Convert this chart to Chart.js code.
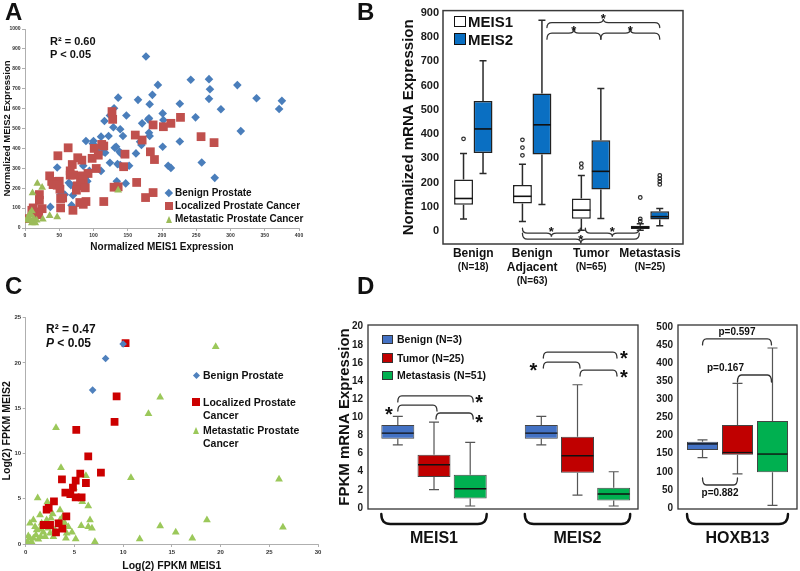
<!DOCTYPE html>
<html><head><meta charset="utf-8">
<script src="https://cdn.jsdelivr.net/npm/chart.js@4/dist/chart.umd.min.js"></script>
<style>
html,body{margin:0;padding:0;background:#fff;}
body{position:relative;width:800px;height:571px;overflow:hidden;font-family:"Liberation Sans",Arial,Helvetica,sans-serif;color:#111;}
canvas{position:absolute;}
.t{position:absolute;font-weight:bold;white-space:nowrap;color:#111;}
.mk{position:absolute;box-sizing:border-box;}
</style></head><body>
<canvas id="cA" width="400" height="290" style="left:0;top:0"></canvas>
<canvas id="cB" width="400" height="290" style="left:400px;top:0"></canvas>
<canvas id="cC" width="400" height="290" style="left:0;top:290px"></canvas>
<canvas id="cD1" width="310" height="290" style="left:330px;top:290px"></canvas>
<canvas id="cD2" width="160" height="290" style="left:640px;top:290px"></canvas>
<script>
// ================= DATA =================
// Panel A: normalized MEIS1 (x) vs MEIS2 (y)
const benignA = [[176.6,862],[242,745],[268.6,748],[270,697],[310,718],[194,719],[165,644],[136,655],[186,669],[268.6,649],[338,652],[375,639],[371,598],[286,597],[226,624],[182,622],[130,602],[124,565],[201,576],[180,546],[181,551],[202,543],[249,556],[148,565],[116,538],[122,462],[111,459],[129,506],[139,496],[143,462],[171,526],[181,479],[182,462],[315,487],[201,408],[226,435],[168,433],[170,417],[162,375],[131,403],[133,408],[100,437],[99,425],[113,417],[89,437],[106,397],[114,383],[117,378],[138,383],[140,375],[124,328],[135,321],[139,316],[152,313],[209,313],[213,302],[258,329],[277,252],[111,287],[85,313],[47,304],[94,287],[88,252],[91,235],[64,227],[67,215],[79,220],[134,235],[147,224],[52,168],[58,168],[70,165],[37,106],[68,114]];
const localizedA = [[127,585],[128,546],[227,556],[213,526],[187,518],[202,509],[161,467],[171,442],[257,459],[276,429],[112,420],[115,412],[63,403],[101,400],[107,366],[183,383],[146,371],[48,363],[77,353],[83,341],[69,319],[98,350],[189,344],[144,308],[36,262],[66,287],[66,266],[71,266],[83,262],[92,274],[104,299],[50,235],[85,240],[39,234],[41,218],[47,215],[76,212],[81,224],[88,202],[51,195],[75,190],[130,205],[136,207],[163,229],[187,178],[176,153],[115,133],[89,133],[80,128],[85,119],[21,168],[21,139],[52,148],[55,151],[52,101],[25,97],[19,81],[20,67],[12,101],[10,89],[70,89],[2,47]];
const metastaticA = [[18,224],[11,176],[25,203],[136,190],[36,61],[47,55],[26,44],[10,86],[7,72],[5,55],[8,39],[12,30],[15,25],[10,25],[6,47],[2,39],[9,64],[13,47],[17,39]];
const seriesA = ['Benign Prostate','Localized Prostate Cancer','Metastatic Prostate Cancer'];
const xTicksA = [0,50,100,150,200,250,300,350,400];
const yTicksA = [0,100,200,300,400,500,600,700,800,900,1000];

// Panel C: log2 FPKM MEIS1 (x) vs MEIS2 (y)
const benignC = [[8.2,20.5],[10.0,22.1],[6.87,17.0]];
const localizedC = [[10.25,22.2],[9.33,16.3],[9.12,13.5],[5.19,12.6],[6.42,9.68],[7.72,7.88],[5.6,7.77],[3.72,7.14],[5.13,7.0],[6.18,6.74],[4.85,6.22],[4.07,5.67],[4.58,5.52],[5.13,5.15],[5.74,5.15],[2.9,4.71],[2.36,3.98],[2.15,3.79],[4.17,3.06],[3.11,1.29],[2.15,2.1],[2.5,2.1],[3.38,2.28],[3.76,1.69],[1.85,2.1]];
const metastaticC = [[19.5,21.8],[13.8,16.2],[12.6,14.4],[3.11,12.85],[3.62,8.43],[10.8,7.33],[6.18,7.55],[26.0,7.14],[4.95,6.19],[5.81,4.68],[6.42,4.2],[1.23,5.08],[2.22,4.64],[3.52,3.76],[18.6,2.65],[13.8,1.99],[15.4,1.29],[17.1,0.63],[11.7,0.55],[26.4,1.84],[7.1,0.26],[5.13,0.55],[6.42,1.91],[6.6,2.65],[6.8,1.73],[5.7,2.02],[4.75,1.29],[4.13,0.63],[4.37,1.91],[3.99,2.36],[2.6,2.84],[2.77,3.31],[1.47,3.2],[0.79,2.65],[0.44,2.28],[0.96,1.91],[1.47,1.62],[1.81,1.29],[1.06,0.99],[0.44,0.63],[0.17,0.26],[0.6,0.26],[1.3,0.52],[2.0,0.81],[2.5,1.18],[3.0,1.55],[3.52,2.65],[3.8,3.02],[0.79,0.63],[1.13,1.55],[1.64,2.28],[2.15,2.65],[2.32,1.73],[2.84,0.81],[0.27,0.88],[1.54,0.81],[4.2,1.18]];
const seriesC = ['Benign Prostate','Localized Prostate|Cancer','Metastatic Prostate|Cancer'];
const xTicksC = [0,5,10,15,20,25,30];
const yTicksC = [0,5,10,15,20,25];

// Panel B: box stats [min, q1, median, q3, max]
const groupsB = [['Benign'],['Benign','Adjacent'],['Tumor'],['Metastasis']];
const countsB = ['(N=18)','(N=63)','(N=65)','(N=25)'];
const seriesB = ['MEIS1','MEIS2'];
const meis1B = [[49,108,134,212,320],[39,113,143,190,275],[3,50,86,134,229],[3,8,15,22,30]];
const meis1OutB = [[380],[312,344,376],[262,278],[40,50,138]];
const meis2B = [[237,322,421,536,702],[109,316,438,567,869],[51,171,246,374,588],[22,47,59,81,93]];
const meis2OutB = [[],[],[],[192,204,216,229]];
const yTicksB = [0,100,200,300,400,500,600,700,800,900];

// Panel D: FPKM box stats [min, q1, median, q3, max]
const groupsD = ['MEIS1','MEIS2'];
const seriesD = ['Benign (N=3)','Tumor (N=25)','Metastasis (N=51)'];
const benignD = [[6.97,7.63,8.26,9.17,10.1],[6.97,7.63,8.26,9.17,10.1]];
const tumorD = [[2.02,3.41,4.77,5.87,9.47],[1.43,3.89,5.76,7.85,13.6]];
const metD = [[0.22,1.06,2.13,3.67,7.23],[0.22,0.84,1.54,2.24,4.0]];
const yTicksD = [0,2,4,6,8,10,12,14,16,18,20];
const groupsH = ['HOXB13'];
const benignH = [[139,160,177,183,188]];
const tumorH = [[94,147,153,229,344]];
const metH = [[7,99,149,240,442]];
const yTicksH = [0,50,100,150,200,250,300,350,400,450,500];
const pValsH = ['p=0.597','p=0.167','p=0.882'];

// ================= HELPERS =================
const FF = '"Liberation Sans", Arial, Helvetica, sans-serif';
Chart.defaults.font.family = FF;
Chart.defaults.color = '#111';

function T(x, y, html, size, opts) {
  opts = opts || {};
  const d = document.createElement('div');
  d.className = 't';
  d.innerHTML = html;
  const lh = opts.lh || size;
  d.style.fontSize = size + 'px';
  d.style.lineHeight = lh + 'px';
  d.style.left = x + 'px';
  d.style.top = (y - ((lh - 1.117 * size) / 2 + 0.547 * size)) + 'px';
  if (opts.style) Object.assign(d.style, opts.style);
  document.body.appendChild(d);
}
function MK(type, cx, cy, s, color, border) {
  const d = document.createElement('div');
  d.className = 'mk';
  if (type === 'diamond') {
    const a = s / Math.SQRT2;
    Object.assign(d.style, {width: a + 'px', height: a + 'px', left: (cx - a / 2) + 'px', top: (cy - a / 2) + 'px', background: color, transform: 'rotate(45deg)'});
  } else if (type === 'square') {
    Object.assign(d.style, {width: s + 'px', height: s + 'px', left: (cx - s / 2) + 'px', top: (cy - s / 2) + 'px', background: color});
  } else if (type === 'box') {
    Object.assign(d.style, {width: s[0] + 'px', height: s[1] + 'px', left: (cx - s[0] / 2) + 'px', top: (cy - s[1] / 2) + 'px', background: color, border: border});
  } else if (type === 'tri') {
    Object.assign(d.style, {width: 0, height: 0, left: (cx - s / 2) + 'px', top: (cy - s / 2) + 'px', borderLeft: (s / 2) + 'px solid transparent', borderRight: (s / 2) + 'px solid transparent', borderBottom: s + 'px solid ' + color});
  }
  document.body.appendChild(d);
}
const pts = arr => arr.map(p => ({x: p[0], y: p[1]}));
const setTicks = vals => s => { s.ticks = vals.map(v => ({value: v})); };

function scatterAxis(min, max, ticks, title, tsize, fit, isX, tickSize, tpad) {
  return {
    type: 'linear', min, max,
    afterBuildTicks: setTicks(ticks),
    ticks: {font: {size: tickSize, weight: 'bold'}, color: '#333', padding: 1.5, autoSkip: false, maxRotation: 0, callback: v => String(v)},
    grid: {display: true, drawOnChartArea: false, drawTicks: true, tickLength: 3, color: '#9a9a9a', lineWidth: 0.8},
    border: {display: true, color: '#9a9a9a', width: 0.8},
    title: {display: true, text: title, font: {size: tsize, weight: 'bold'}, color: '#111', padding: tpad},
    afterFit: s => { if (isX) s.height = fit; else s.width = fit; }
  };
}

// box plot: whiskers, caps, medians, outliers drawn from the bar elements & y-scale
const boxPlugin = {
  id: 'boxExtras',
  afterDatasetsDraw(chart) {
    const ctx = chart.ctx, ys = chart.scales.y;
    chart.data.datasets.forEach((ds, di) => {
      if (!ds.stats) return;
      const st = ds.boxStyle;
      chart.getDatasetMeta(di).data.forEach((bar, i) => {
        const s = ds.stats[i].map(v => ys.getPixelForValue(v));
        const x = bar.x, w = bar.width;
        ctx.save();
        ctx.strokeStyle = st.whisker; ctx.lineWidth = st.lw;
        ctx.beginPath();
        ctx.moveTo(x, s[3]); ctx.lineTo(x, s[4]);
        ctx.moveTo(x, s[1]); ctx.lineTo(x, s[0]);
        ctx.moveTo(x - st.cap, s[4]); ctx.lineTo(x + st.cap, s[4]);
        ctx.moveTo(x - st.cap, s[0]); ctx.lineTo(x + st.cap, s[0]);
        ctx.stroke();
        ctx.strokeStyle = st.median; ctx.lineWidth = st.mlw;
        ctx.beginPath(); ctx.moveTo(x - w / 2 + 0.5, s[2]); ctx.lineTo(x + w / 2 - 0.5, s[2]); ctx.stroke();
        ctx.strokeStyle = st.whisker; ctx.lineWidth = 1.2;
        ((ds.outliers && ds.outliers[i]) || []).forEach(v => {
          ctx.beginPath(); ctx.arc(x, ys.getPixelForValue(v), st.or, 0, Math.PI * 2); ctx.stroke();
        });
        ctx.restore();
      });
    });
  }
};

function brace(ctx, x1, x2, y, h, tip, r) {
  r = Math.min(r, (x2 - x1) / 4);
  const m = (x1 + x2) / 2;
  ctx.beginPath();
  ctx.moveTo(x1, y + h);
  ctx.quadraticCurveTo(x1, y, x1 + r, y);
  if (tip) {
    ctx.lineTo(m - r, y);
    ctx.quadraticCurveTo(m, y, m, y - h * 0.7);
    ctx.quadraticCurveTo(m, y, m + r, y);
  }
  ctx.lineTo(x2 - r, y);
  ctx.quadraticCurveTo(x2, y, x2, y + h);
  ctx.stroke();
}
function star(ctx, x, cy, size) {
  ctx.save();
  ctx.font = 'bold ' + size + 'px ' + FF;
  ctx.fillStyle = '#111'; ctx.textAlign = 'center'; ctx.textBaseline = 'alphabetic';
  ctx.fillText('*', x, cy + 0.575 * size);
  ctx.restore();
}
function drawSig(chart, specs, style) {
  const ctx = chart.ctx, ys = chart.scales.y;
  specs.forEach(sp => {
    const b1 = chart.getDatasetMeta(sp.from[1]).data[sp.from[0]];
    const b2 = chart.getDatasetMeta(sp.to[1]).data[sp.to[0]];
    const x1 = b1.x + (sp.dx1 || 0), x2 = b2.x + (sp.dx2 || 0);
    const yy = ys.getPixelForValue(sp.v);
    ctx.save();
    ctx.strokeStyle = style.color; ctx.lineWidth = style.lw; ctx.lineCap = 'round';
    brace(ctx, x1, x2, yy, sp.h, sp.tip, style.r);
    ctx.restore();
    if (sp.mark) {
      const mk = sp.mark;
      const mx = (mk.at === 'x1' ? x1 : mk.at === 'x2' ? x2 : (x1 + x2) / 2) + (mk.dx || 0);
      const my = yy + (mk.dy || 0);
      if (mk.text) {
        ctx.save();
        ctx.font = 'bold ' + mk.size + 'px ' + FF; ctx.fillStyle = '#111';
        ctx.textAlign = 'center'; ctx.textBaseline = 'middle';
        ctx.fillText(mk.text, mx, my);
        ctx.restore();
      } else star(ctx, mx, my, mk.size);
    }
  });
}
function frame(chart, color, lw) {
  const a = chart.chartArea, ctx = chart.ctx;
  ctx.save(); ctx.strokeStyle = color; ctx.lineWidth = lw;
  ctx.strokeRect(a.left, a.top, a.right - a.left, a.bottom - a.top);
  ctx.restore();
}
function groupBraces(chart, labels, nSeries) {
  const ctx = chart.ctx, a = chart.chartArea;
  labels.forEach((lab, g) => {
    const first = chart.getDatasetMeta(0).data[g], last = chart.getDatasetMeta(nSeries - 1).data[g];
    const x1 = first.x - first.width / 2, x2 = last.x + last.width / 2;
    ctx.save(); ctx.strokeStyle = '#111'; ctx.lineWidth = 2.4; ctx.lineCap = 'round';
    brace(ctx, x1, x2, a.bottom + 15, -10, false, 9);
    ctx.font = 'bold 16px ' + FF; ctx.fillStyle = '#111'; ctx.textAlign = 'center'; ctx.textBaseline = 'middle';
    ctx.fillText(lab, (x1 + x2) / 2, a.bottom + 30);
    ctx.restore();
  });
}
function indexAxis(min, max, ticks, h) {
  return {type: 'linear', min, max, offset: false, afterBuildTicks: setTicks(ticks),
    ticks: {display: false}, grid: {display: false, offset: false}, border: {display: false}, afterFit: s => { s.height = h; }};
}

// ================= PANEL A =================
new Chart(document.getElementById('cA'), {
  type: 'scatter',
  data: {datasets: [
    {label: seriesA[0], data: pts(benignA), pointStyle: 'rectRot', radius: 4.3, backgroundColor: '#4A7EBB', borderWidth: 0, order: 3},
    {label: seriesA[1], data: pts(localizedA), pointStyle: 'rect', radius: 6.2, backgroundColor: '#C0504D', borderWidth: 0, order: 2},
    {label: seriesA[2], data: pts(metastaticA), pointStyle: 'triangle', radius: 4.5, backgroundColor: '#9BBB59', borderWidth: 0, order: 1}
  ]},
  options: {
    responsive: false, animation: false, events: [],
    layout: {padding: {top: 29, right: 101, left: 0, bottom: 37}},
    plugins: {legend: {display: false}, tooltip: {enabled: false}},
    scales: {
      x: scatterAxis(0, 400, xTicksA, 'Normalized MEIS1 Expression', 10, 25, true, 5, 0),
      y: scatterAxis(0, 1000, yTicksA, 'Normalized MEIS2 Expression', 9.5, 25, false, 5, {top: 1.3, bottom: 0})
    }
  }
});

// ================= PANEL C =================
new Chart(document.getElementById('cC'), {
  type: 'scatter',
  data: {datasets: [
    {label: seriesC[0], data: pts(benignC), pointStyle: 'rectRot', radius: 3.8, backgroundColor: '#4F81BD', borderWidth: 0, order: 1},
    {label: seriesC[1], data: pts(localizedC), pointStyle: 'rect', radius: 5.5, backgroundColor: '#CC0000', borderWidth: 0, order: 2},
    {label: seriesC[2], data: pts(metastaticC), pointStyle: 'triangle', radius: 4.5, backgroundColor: '#9BC85A', borderWidth: 0, order: 3}
  ]},
  options: {
    responsive: false, animation: false, events: [],
    layout: {padding: {top: 27.7, right: 82, left: 0, bottom: 7.7}},
    plugins: {legend: {display: false}, tooltip: {enabled: false}},
    scales: {
      x: scatterAxis(0, 30, xTicksC, 'Log(2) FPKM MEIS1', 10.5, 28.3, true, 6, 0),
      y: scatterAxis(0, 25, yTicksC, 'Log(2) FPKM MEIS2', 10.5, 25.7, false, 6, {top: 0.7, bottom: 0})
    }
  }
});

// ================= PANEL B =================
const boxStyleB = {whisker: '#2a2a2a', lw: 1.5, median: '#111', mlw: 1.6, cap: 3.5, or: 1.8};
const sigB = [
  {from: [1, 1], to: [3, 1], dx1: 5, v: 860, h: 5, tip: true, mark: {dy: -7, size: 13}},
  {from: [1, 1], to: [2, 1], dx1: 5, v: 816, h: 6, tip: true, mark: {dy: -6, size: 13}},
  {from: [2, 1], to: [3, 1], v: 816, h: 6, tip: true, mark: {dy: -6, size: 13}},
  {from: [1, 0], to: [2, 0], dx2: -1, v: -9, h: -5, tip: true, mark: {dy: -5, size: 13}},
  {from: [2, 0], to: [3, 0], dx1: 4, dx2: -1, v: -9, h: -5, tip: true, mark: {dy: -5, size: 13}},
  {from: [1, 0], to: [3, 0], dx2: -1, v: -34, h: -6, tip: true, mark: {dy: -3, size: 13}}
];
new Chart(document.getElementById('cB'), {
  type: 'bar',
  data: {datasets: [
    {label: seriesB[0], data: meis1B.map((s, i) => ({x: i, y: [s[1], s[3]]})), stats: meis1B, outliers: meis1OutB, boxStyle: boxStyleB,
     backgroundColor: '#ffffff', borderColor: '#222', borderWidth: 1.5, borderSkipped: false, categoryPercentage: 0.662, barPercentage: 0.97},
    {label: seriesB[1], data: meis2B.map((s, i) => ({x: i, y: [s[1], s[3]]})), stats: meis2B, outliers: meis2OutB, boxStyle: boxStyleB,
     backgroundColor: '#0A6FC2', borderColor: '#222', borderWidth: 1.5, borderSkipped: false, categoryPercentage: 0.662, barPercentage: 0.97}
  ]},
  options: {
    responsive: false, animation: false, events: [],
    layout: {padding: {top: 6, right: 117, left: 0, bottom: 0}},
    plugins: {legend: {display: false}, tooltip: {enabled: false}},
    scales: {
      x: indexAxis(-0.514, 3.56, [0, 1, 2, 3], 46),
      y: {type: 'linear', min: -53.8, max: 909.3, afterBuildTicks: setTicks(yTicksB),
          ticks: {font: {size: 11, weight: 'bold'}, color: '#1a1a1a', padding: 4, callback: v => String(v)},
          grid: {display: false, drawTicks: false}, border: {display: false},
          title: {display: true, text: 'Normalized mRNA Expression', font: {size: 15, weight: 'bold'}, color: '#111', padding: {top: 0, bottom: 0}},
          afterFit: s => { s.width = 43; }}
    }
  },
  plugins: [boxPlugin, {
    id: 'decoB',
    afterDraw(chart) {
      frame(chart, '#3a3a3a', 1.5);
      drawSig(chart, sigB, {color: '#333', lw: 1.3, r: 5});
      const ctx = chart.ctx, xs = chart.scales.x, a = chart.chartArea;
      ctx.save(); ctx.fillStyle = '#111'; ctx.textAlign = 'center'; ctx.textBaseline = 'middle';
      groupsB.forEach((lines, i) => {
        const x = xs.getPixelForValue(i);
        ctx.font = 'bold 12px ' + FF;
        lines.forEach((ln, k) => ctx.fillText(ln, x, a.bottom + 10 + k * 14));
        ctx.font = 'bold 10px ' + FF;
        ctx.fillText(countsB[i], x, a.bottom + 10 + (lines.length - 1) * 14 + 13);
      });
      ctx.restore();
    }
  }]
});

// ================= PANEL D (MEIS1 / MEIS2) =================
const colorsD = ['#4472C4', '#C00000', '#00B050'];
const boxStyleD = {whisker: '#555', lw: 1.2, median: '#111', mlw: 1.4, cap: 5, or: 1.8};
const sigD = [
  {from: [0, 0], to: [0, 1], dx2: 3, v: 11.36, h: 6, mark: {at: 'x1', dx: -9, dy: 4, size: 20}},
  {from: [0, 1], to: [0, 2], dx1: 2, dx2: 3, v: 10.48, h: 6, mark: {at: 'x2', dx: 6, dy: 4, size: 20}},
  {from: [0, 0], to: [0, 2], dx2: 3, v: 12.36, h: 6, mark: {at: 'x2', dx: 6, dy: 2, size: 20}},
  {from: [1, 0], to: [1, 1], dx1: 2, dx2: 2.5, v: 16.1, h: 6, mark: {at: 'x1', dx: -10, dy: 3, size: 20}},
  {from: [1, 1], to: [1, 2], dx1: 2.5, dx2: 3.3, v: 15.22, h: 6, mark: {at: 'x2', dx: 7, dy: 2, size: 20}},
  {from: [1, 0], to: [1, 2], dx1: 2, dx2: 3.3, v: 17.2, h: 6, mark: {at: 'x2', dx: 7, dy: 1, size: 20}}
];
function boxDatasets(list, catPct, barPct) {
  return list.map((stats, k) => ({
    label: seriesD[k], data: stats.map((s, i) => ({x: i, y: [s[1], s[3]]})), stats: stats, boxStyle: boxStyleD,
    backgroundColor: colorsD[k], borderColor: '#444', borderWidth: 1, borderSkipped: false,
    categoryPercentage: catPct, barPercentage: barPct
  }));
}
function boxYAxis(min, max, ticks, title) {
  return {type: 'linear', min, max, afterBuildTicks: setTicks(ticks),
    ticks: {font: {size: 10, weight: 'bold'}, color: '#1a1a1a', padding: 5, callback: v => String(v)},
    grid: {display: false, drawTicks: false}, border: {display: false},
    title: {display: !!title, text: title || '', font: {size: 15, weight: 'bold'}, color: '#111', padding: {top: 6, bottom: 0}},
    afterFit: s => { s.width = 38; }};
}
new Chart(document.getElementById('cD1'), {
  type: 'bar',
  data: {datasets: boxDatasets([benignD, tumorD, metD], 0.7568, 0.9116)},
  options: {
    responsive: false, animation: false, events: [],
    layout: {padding: {top: 35, right: 2, left: 0, bottom: 0}},
    plugins: {legend: {display: false}, tooltip: {enabled: false}},
    scales: {
      x: indexAxis(-0.46, 1.4216, [0, 1], 71),
      y: boxYAxis(-0.11, 20.19, yTicksD, 'FPKM mRNA Expression')
    }
  },
  plugins: [boxPlugin, {
    id: 'decoD1',
    afterDraw(chart) {
      frame(chart, '#333', 1.3);
      drawSig(chart, sigD, {color: '#333', lw: 1.3, r: 4});
      groupBraces(chart, groupsD, 3);
    }
  }]
});

// ================= PANEL D (HOXB13) =================
const sigH = [
  {from: [0, 0], to: [0, 2], dx2: -1, v: 466.9, h: 6, mark: {dy: -7, size: 10, text: pValsH[0]}},
  {from: [0, 1], to: [0, 2], dx2: -1, v: 367.4, h: 7, mark: {dx: -29, dy: -7, size: 10, text: pValsH[1]}},
  {from: [0, 0], to: [0, 1], v: 63.5, h: -7, mark: {dy: 8, size: 10, text: pValsH[2]}}
];
new Chart(document.getElementById('cD2'), {
  type: 'bar',
  data: {datasets: boxDatasets([benignH, tumorH, metH], 0.882, 0.886)},
  options: {
    responsive: false, animation: false, events: [],
    layout: {padding: {top: 35, right: 3, left: 0, bottom: 0}},
    plugins: {legend: {display: false}, tooltip: {enabled: false}},
    scales: {
      x: indexAxis(-0.5, 0.5, [0], 71),
      y: boxYAxis(-2.8, 505.5, yTicksH, null)
    }
  },
  plugins: [boxPlugin, {
    id: 'decoD2',
    afterDraw(chart) {
      frame(chart, '#333', 1.3);
      drawSig(chart, sigH, {color: '#333', lw: 1.3, r: 4});
      groupBraces(chart, groupsH, 3);
    }
  }]
});

// ================= TEXT OVERLAYS =================
T(5, 12, 'A', 24); T(357, 12, 'B', 24); T(5, 286, 'C', 24); T(357, 286, 'D', 24);
// panel A stats + legend
T(50, 41, 'R² = 0.60', 11); T(50, 54, 'P &lt; 0.05', 11);
MK('diamond', 169, 193, 8, '#4A7EBB'); MK('square', 169, 206, 8, '#C0504D'); MK('tri', 169, 219, 7, '#9BBB59');
seriesA.forEach((s, i) => T(175, 193 + i * 13, s, 10));
// panel C stats + legend
T(46, 329, 'R² = 0.47', 12); T(46, 343, '<i>P</i> &lt; 0.05', 12);
MK('diamond', 196, 375, 7, '#4F81BD'); MK('square', 196, 402, 7.5, '#CC0000'); MK('tri', 196, 430, 7, '#9BC85A');
[375, 402, 430].forEach((y, i) => T(203, y, seriesC[i].split('|').join('<br>'), 10.5, {lh: 13}));
// panel B legend
MK('box', 460, 21.7, [12, 11.5], '#ffffff', '1.5px solid #111');
MK('box', 460, 39, [12, 11.5], '#0A6FC2', '1.5px solid #111');
seriesB.forEach((s, i) => T(468, 21.7 + i * 17.3, s, 15));
// panel D legend
[339.5, 358, 375.5].forEach((y, i) => {
  MK('box', 387.5, y, [11, 9.5], colorsD[i], '1px solid #333');
  T(397, y, seriesD[i], 10.5);
});
</script>
</body></html>
